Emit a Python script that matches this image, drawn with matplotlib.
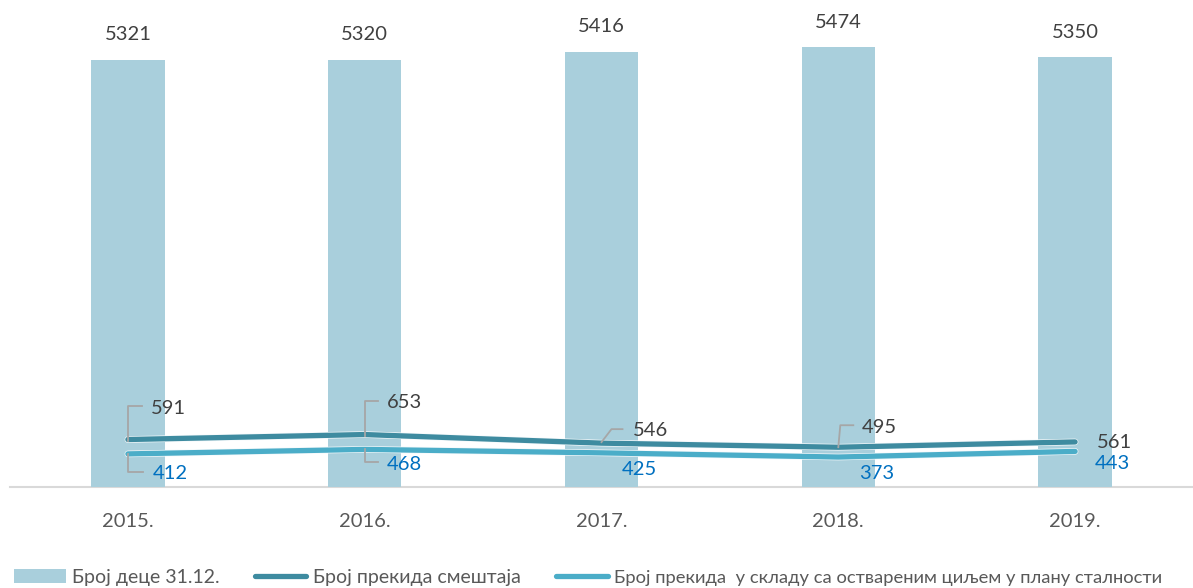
#!/usr/bin/env python3
"""
Број деце на смештају и број прекида смештаја, 2015-2019.
"""
import matplotlib
matplotlib.use("Agg")
import matplotlib.pyplot as plt
import matplotlib.patheffects as pe
from matplotlib import transforms
from matplotlib.lines import Line2D
from matplotlib.patches import Patch

years = ["2015.", "2016.", "2017.", "2018.", "2019."]
broj_dece = [5321, 5320, 5416, 5474, 5350]
prekidi = [591, 653, 546, 495, 561]
prekidi_cilj = [412, 468, 425, 373, 443]

labels = ["Број деце 31.12.",
          "Број прекида смештаја",
          "Број прекида  у складу са оствареним циљем у плану сталности"]

BAR_COLOR = "#A9CFDC"
DARK_LINE = "#3E8BA0"
LIGHT_LINE = "#4BADC8"
TXT_GRAY = "#404040"
TXT_BLUE = "#0070C0"
LEADER = "#A6A6A6"

plt.rcParams["font.family"] = ["Lato", "DejaVu Sans"]


def leader(ax, x, y, pts):
    # pts are pixel offsets from the data point (y up)
    tr = transforms.IdentityTransform() + transforms.ScaledTranslation(x, y, ax.transData)
    xs = [p[0] for p in pts]
    ys = [p[1] for p in pts]
    ax.add_line(Line2D(xs, ys, transform=tr, color=LEADER, lw=1.3, zorder=4))


def plot_chart(output_file="out.png"):
    fig = plt.figure(figsize=(11.93, 5.88), dpi=100)
    ax = fig.add_axes([9.5 / 1193, 101 / 588, 1184 / 1193, 482 / 588])

    x = list(range(len(years)))
    ax.bar(x, broj_dece, width=0.31, color=BAR_COLOR, zorder=1)

    halo = [pe.Stroke(linewidth=4.8, foreground="#F4F9FB"), pe.Normal()]
    ax.plot(x, prekidi, color=DARK_LINE, lw=3.8, solid_capstyle="round",
            solid_joinstyle="round", zorder=3, path_effects=halo)
    ax.plot(x, prekidi_cilj, color=LIGHT_LINE, lw=3.8, solid_capstyle="round",
            solid_joinstyle="round", zorder=3, path_effects=halo)

    # bar labels
    for xi, v in zip(x, broj_dece):
        ax.annotate(str(v), (xi, v), xytext=(0, 25), textcoords="offset pixels",
                    ha="center", va="center", fontsize=14.5, color=TXT_GRAY)

    # labels for dark line: (dx, dy) of text, leader vertices
    dark_pos = [
        ((23, 31.5), [(0, -1), (0, 33.5), (14, 33.5)]),
        ((22, 31.6), [(0, -1), (0, 33.6), (13, 33.6)]),
        ((31, 13), [(0, 1), (10, 14), (21, 14)]),
        ((23, 20), [(0, 0), (2, 22), (15, 22)]),
        ((22, -1), None),
    ]
    for xi, v, (off, pts) in zip(x, prekidi, dark_pos):
        if pts:
            leader(ax, xi, v, pts)
        ax.annotate(str(v), (xi, v), xytext=off, textcoords="offset pixels",
                    ha="left", va="center", fontsize=14.5, color=TXT_GRAY, zorder=5)

    light_pos = [
        ((25, -20), [(0, 0), (0, -18), (15, -18)]),
        ((22, -14.6), [(0, 0), (0, -12.6), (13, -12.6)]),
        ((20, -17), None),
        ((21, -16), None),
        ((20, -11.6), None),
    ]
    for xi, v, (off, pts) in zip(x, prekidi_cilj, light_pos):
        if pts:
            leader(ax, xi, v, pts)
        ax.annotate(str(v), (xi, v), xytext=off, textcoords="offset pixels",
                    ha="left", va="center", fontsize=14.5, color=TXT_BLUE, zorder=5)

    ax.set_xlim(-0.5, 4.5)
    ax.set_ylim(0, 6000)
    ax.set_xticks(x)
    ax.set_xticklabels(years, fontsize=14.5, color="#595959")
    ax.tick_params(axis="x", length=0, pad=19)
    ax.set_yticks([])
    for s in ["top", "right", "left"]:
        ax.spines[s].set_visible(False)
    ax.spines["bottom"].set_color("#D9D9D9")
    ax.spines["bottom"].set_linewidth(1.5)
    ax.spines["bottom"].set_zorder(0)

    handles = [
        Patch(facecolor=BAR_COLOR, edgecolor="none"),
        Line2D([0], [0], color=DARK_LINE, lw=3.8, solid_capstyle="round"),
        Line2D([0], [0], color=LIGHT_LINE, lw=3.8, solid_capstyle="round"),
    ]
    leg = fig.legend(handles, labels, loc="center left", bbox_to_anchor=(14 / 1193, 1 - 577 / 588),
                     ncol=3, frameon=False, fontsize=14, labelcolor="#595959",
                     handlelength=2.65, handleheight=0.75, handletextpad=0.35,
                     columnspacing=1.8, borderpad=0, borderaxespad=0)
    # the long label is a bit wider in Lato than in the original font
    leg.get_texts()[2].set_fontsize(13.2)

    fig.savefig(output_file, dpi=100)


if __name__ == "__main__":
    plot_chart()
